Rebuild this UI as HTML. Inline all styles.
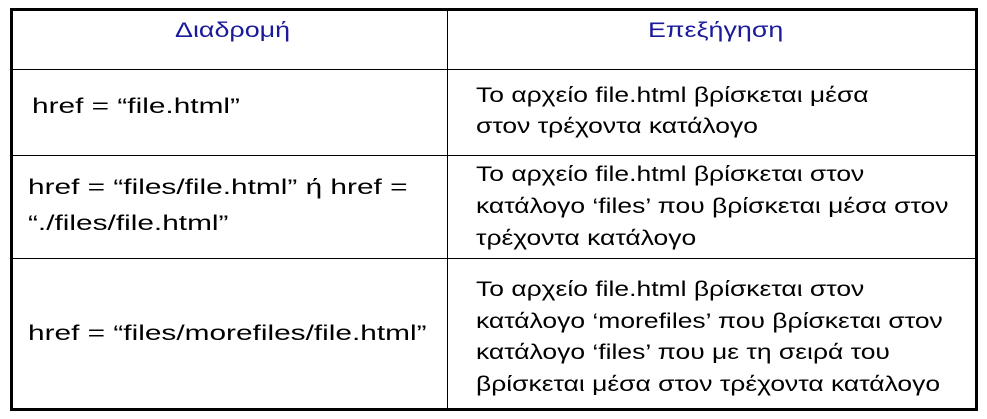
<!DOCTYPE html>
<html><head><meta charset="utf-8"><style>
body{margin:0;background:#fff;width:987px;height:419px;overflow:hidden;position:relative;font-family:"Liberation Sans","DejaVu Sans",sans-serif;}
.b{position:absolute;background:#000;}
.t{position:absolute;font-size:21px;line-height:31px;color:#000;white-space:nowrap;transform:scaleX(1.26);transform-origin:0 0;}
.l{transform:scaleX(1.42);}
.h{color:#1a1a9a;transform:scaleX(1.28);}
</style></head><body>
<div class="b" style="left:10px;top:8px;width:968px;height:3px"></div>
<div class="b" style="left:10px;top:408px;width:968px;height:3px"></div>
<div class="b" style="left:10px;top:8px;width:3px;height:403px"></div>
<div class="b" style="left:975px;top:8px;width:3px;height:403px"></div>
<div class="b" style="left:447px;top:10px;width:1px;height:400px"></div>
<div class="b" style="left:11px;top:69px;width:966px;height:1px"></div>
<div class="b" style="left:11px;top:155px;width:966px;height:1px"></div>
<div class="b" style="left:11px;top:258px;width:966px;height:1px"></div>

<div class="t h" style="left:175px;top:15px">Διαδρομή</div>
<div class="t h" style="left:648px;top:15px">Επεξήγηση</div>

<div class="t l" style="left:32px;top:91px">href = “file.html”</div>
<div class="t" style="left:476px;top:80px">Το αρχείο file.html βρίσκεται μέσα<br>στον τρέχοντα κατάλογο</div>

<div class="t l" style="left:28px;top:170px;line-height:36px">href = “files/file.html” ή href =<br>“./files/file.html”</div>
<div class="t" style="left:476px;top:159px;line-height:32px">Το αρχείο file.html βρίσκεται στον<br>κατάλογο ‘files’ που βρίσκεται μέσα στον<br>τρέχοντα κατάλογο</div>

<div class="t l" style="left:28px;top:318px">href = “files/morefiles/file.html”</div>
<div class="t" style="left:476px;top:274px;line-height:31.5px">Το αρχείο file.html βρίσκεται στον<br>κατάλογο ‘morefiles’ που βρίσκεται στον<br>κατάλογο ‘files’ που με τη σειρά του<br>βρίσκεται μέσα στον τρέχοντα κατάλογο</div>
</body></html>
